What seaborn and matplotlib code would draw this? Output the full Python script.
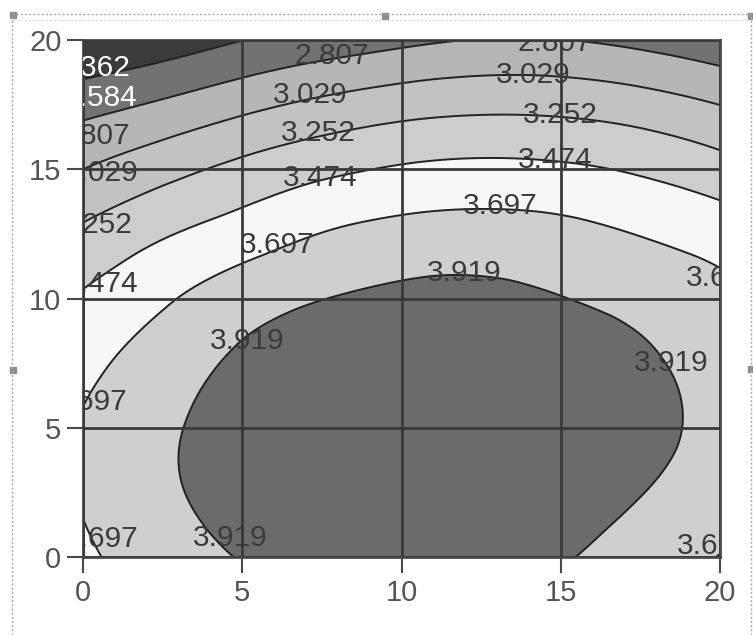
# -*- coding: utf-8 -*-
"""
Mapa de contorno (superfície de resposta) em tons de cinza.
Os valores da grade foram estimados a partir da figura original.
"""

import numpy as np
import matplotlib
matplotlib.use("Agg")
import matplotlib.pyplot as plt
import matplotlib.tri as mtri
from matplotlib.lines import Line2D
from matplotlib.patches import Rectangle
import seaborn as sns

# --- DADOS ---
grid_x = [0, 2.5, 5, 7.5, 10, 12.5, 15, 17.5, 20]
grid_y = [0, 2.5, 5, 7.5, 10, 12.5, 15, 17.5, 20]
response = [
    [3.660, 3.810, 3.930, 3.996, 4.010, 3.979, 3.935, 3.823, 3.690],  # y = 0
    [3.715, 3.879, 4.006, 4.082, 4.106, 4.082, 4.019, 3.925, 3.815],  # y = 2.5
    [3.715, 3.880, 4.013, 4.098, 4.134, 4.120, 4.064, 3.974, 3.867],  # y = 5
    [3.637, 3.809, 3.955, 4.042, 4.088, 4.086, 4.038, 3.952, 3.842],  # y = 7.5
    [3.499, 3.666, 3.820, 3.915, 3.966, 3.975, 3.925, 3.858, 3.760],  # y = 10
    [3.295, 3.453, 3.580, 3.702, 3.769, 3.789, 3.761, 3.689, 3.600],  # y = 12.5
    [3.029, 3.175, 3.311, 3.423, 3.497, 3.527, 3.509, 3.445, 3.339],  # y = 15
    [2.725, 2.838, 2.966, 3.077, 3.157, 3.195, 3.186, 3.129, 3.027],  # y = 17.5
    [2.349, 2.452, 2.580, 2.674, 2.755, 2.815, 2.812, 2.747, 2.648],  # y = 20
]
levels = [2.362, 2.584, 2.807, 3.029, 3.252, 3.474, 3.697, 3.919]
ticks = [0, 5, 10, 15, 20]

# cores das faixas (abaixo do 1o nível ... acima do último)
band_colors = ["#2c2c2c", "#3b3b3b", "#727272", "#b6b6b6", "#c2c2c2",
               "#cdcdcd", "#f7f7f7", "#cfcfcf", "#6b6b6b"]

# rótulos das curvas: (texto, x, y, alinhamento, cor)
contour_labels = [
    ("2.362", 1.48, 18.9, "right", "white"),
    ("2.584", 1.70, 17.75, "right", "white"),
    ("2.807", 1.48, 16.3, "right", "#3a3a3a"),
    ("3.029", 1.73, 14.85, "right", "#3a3a3a"),
    ("3.252", 1.57, 12.85, "right", "#3a3a3a"),
    ("3.474", 1.73, 10.55, "right", "#3a3a3a"),
    ("3.697", 1.41, 6.0, "right", "#3a3a3a"),
    ("3.697", 1.75, 0.68, "right", "#3a3a3a"),
    ("2.807", 7.8, 19.4, "center", "#3a3a3a"),
    ("3.029", 7.13, 17.87, "center", "#3a3a3a"),
    ("3.252", 7.38, 16.4, "center", "#3a3a3a"),
    ("3.474", 7.44, 14.66, "center", "#3a3a3a"),
    ("3.697", 6.1, 12.07, "center", "#3a3a3a"),
    ("3.919", 5.15, 8.36, "center", "#3a3a3a"),
    ("3.919", 4.62, 0.73, "center", "#3a3a3a"),
    ("2.807", 14.8, 19.9, "center", "#3a3a3a"),
    ("3.029", 14.13, 18.65, "center", "#3a3a3a"),
    ("3.252", 14.98, 17.1, "center", "#3a3a3a"),
    ("3.474", 14.82, 15.36, "center", "#3a3a3a"),
    ("3.697", 13.1, 13.58, "center", "#3a3a3a"),
    ("3.919", 11.96, 10.99, "center", "#3a3a3a"),
    ("3.697", 18.93, 10.8, "left", "#3a3a3a"),
    ("3.919", 18.46, 7.5, "center", "#3a3a3a"),
    ("3.697", 18.65, 0.43, "left", "#3a3a3a"),
]

# --- ESTILO ---
sns.set_theme(style="white")
plt.rcParams["font.family"] = ["Liberation Sans", "DejaVu Sans"]

fig = plt.figure(figsize=(7.53, 6.35), dpi=100)
ax = fig.add_axes([83 / 753, 1 - 557 / 635, 637 / 753, 517 / 635])

# superfície suavizada pela triangulação do matplotlib
gx, gy = np.meshgrid(grid_x, grid_y)
tri = mtri.Triangulation(gx.ravel(), gy.ravel())
refiner = mtri.UniformTriRefiner(tri)
tri_fine, z_fine = refiner.refine_field(np.array(response).ravel(), subdiv=4)

ax.tricontourf(tri_fine, z_fine, levels=levels, colors=band_colors, extend="both")
ax.tricontour(tri_fine, z_fine, levels=levels, colors="#222222", linewidths=1.4)

for text, x, y, ha, color in contour_labels:
    ax.text(x, y, text, ha=ha, va="center", fontsize=21.5, color=color,
            clip_on=True, zorder=4)

ax.set_xlim(0, 20)
ax.set_ylim(0, 20)
ax.set_xticks(ticks)
ax.set_yticks(ticks)
ax.set_axisbelow(False)
ax.grid(True, color="#3a3a3a", linewidth=2.0)
for sp in ax.spines.values():
    sp.set_color("#4a4a4a")
    sp.set_linewidth(2.0)
ax.tick_params(axis="both", direction="out", length=11.5, width=1.5,
               color="#4a4a4a", labelsize=21, labelcolor="#555555", pad=4,
               left=True, bottom=True)

# moldura pontilhada de seleção (como na captura original)
frame_style = dict(color="#a8a8a8", linestyle=(0, (1.5, 1.5)), linewidth=1.0,
                   transform=fig.transFigure)
fig.add_artist(Line2D([12 / 753, 1.0], [1 - 14 / 635, 1 - 14 / 635], **frame_style))
fig.add_artist(Line2D([12 / 753, 1.0], [1 - 20 / 635, 1 - 20 / 635],
                      color="#d8d8d8", linestyle=(0, (1.5, 1.5)), linewidth=1.0,
                      transform=fig.transFigure))
fig.add_artist(Line2D([12 / 753, 12 / 753], [0, 1 - 14 / 635], **frame_style))
fig.add_artist(Line2D([751 / 753, 751 / 753], [0, 1 - 14 / 635], **frame_style))
for hx, hy in [(13, 15), (385, 16), (13, 370), (751, 16), (751, 369)]:
    fig.add_artist(Rectangle(((hx - 3) / 753, 1 - (hy + 3) / 635), 6 / 753, 6 / 635,
                             color="#8c8c8c", transform=fig.transFigure))

fig.savefig("out.png", dpi=100)
